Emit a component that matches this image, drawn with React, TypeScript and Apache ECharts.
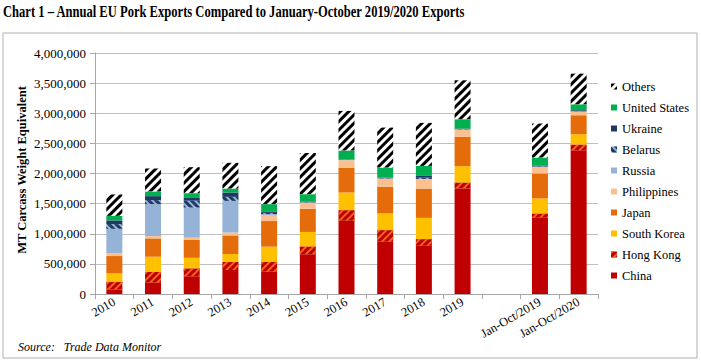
import React, { useEffect, useRef } from "react";
import * as echarts from "echarts";

const categories = ["2010", "2011", "2012", "2013", "2014", "2015", "2016", "2017", "2018", "2019", "", "Jan-Oct/2019", "Jan-Oct/2020"];

// thousand MT carcass weight equivalent
const china = [77, 188, 295, 398, 370, 660, 1215, 867, 800, 1751, null, 1265, 2387];
const hongKong = [127, 182, 131, 135, 166, 130, 177, 194, 111, 100, null, 72, 94];
const southKorea = [139, 249, 175, 130, 250, 240, 293, 276, 353, 271, null, 249, 171];
const japan = [287, 304, 295, 310, 425, 385, 409, 442, 486, 486, null, 414, 315];
const philippines = [50, 38, 40, 48, 100, 100, 127, 135, 155, 120, null, 110, 60];
const russia = [403, 531, 500, 525, 15, 3, 3, 3, 5, 3, null, 3, 3];
const belarus = [77, 66, 113, 66, 20, 4, 3, 5, 20, 5, null, 5, 3];
const ukraine = [61, 66, 55, 72, 25, 8, 5, 7, 30, 10, null, 9, 17];
const unitedStates = [77, 78, 70, 66, 121, 127, 150, 170, 167, 155, null, 138, 99];
const others = [354, 381, 431, 427, 630, 683, 657, 663, 713, 646, null, 564, 508];

const yTicks = { min: 0, max: 4000000, interval: 500000 };
const legendOrder = ["Others", "United States", "Ukraine", "Belarus", "Russia", "Philippines", "Japan", "South Korea", "Hong Kong", "China"];

const FONT = "Liberation Serif, Times New Roman, serif";

export default function App() {
  const ref = useRef<HTMLDivElement>(null);
  useEffect(() => {
    if (!ref.current) return;
    const chart = echarts.init(ref.current, null, { renderer: "svg" });
    const toVals = (a: (number | null)[]) => a.map((v) => (v == null ? "-" : v * 1000));
    const mk = (name: string, data: (number | null)[], itemStyle: any) => ({
      name,
      type: "bar",
      stack: "total",
      barWidth: 16,
      data: toVals(data),
      itemStyle,
    });
    const series = [
      mk("China", china, { color: "#C00000" }),
      mk("Hong Kong", hongKong, {
        color: "#C00000",
        decal: { symbol: "rect", symbolSize: 1, color: "#F0641E", dashArrayX: [1, 0], dashArrayY: [2, 3], rotation: -Math.PI / 4 },
      }),
      mk("South Korea", southKorea, { color: "#FFC000" }),
      mk("Japan", japan, { color: "#E46C0A" }),
      mk("Philippines", philippines, { color: "#FAC090" }),
      mk("Russia", russia, { color: "#95B3D7" }),
      mk("Belarus", belarus, {
        color: "#95B3D7",
        decal: { symbol: "rect", symbolSize: 1, color: "#1F3864", dashArrayX: [1, 0], dashArrayY: [3, 2], rotation: Math.PI / 4 },
      }),
      mk("Ukraine", ukraine, { color: "#1F3864" }),
      mk("United States", unitedStates, { color: "#00B050" }),
      mk("Others", others, {
        color: "#FFFFFF",
        decal: { symbol: "rect", symbolSize: 1, color: "#000000", dashArrayX: [1, 0], dashArrayY: [2.5, 2.5], rotation: -Math.PI / 4 },
      }),
    ];
    chart.setOption({
      animation: false,
      textStyle: { fontFamily: FONT },
      grid: { left: 95, right: 103, top: 53, bottom: 70, containLabel: false },
      legend: {
        orient: "vertical",
        left: 606,
        top: 75,
        itemWidth: 6,
        itemHeight: 6,
        itemGap: 8,
        icon: "rect",
        data: legendOrder,
        textStyle: { fontFamily: FONT, fontSize: 12.5, color: "#000" },
      },
      xAxis: {
        type: "category",
        data: categories,
        axisLine: { lineStyle: { color: "#a6a6a6" } },
        axisTick: { show: true, length: 5, lineStyle: { color: "#a6a6a6" } },
        axisLabel: { interval: 0, rotate: 30, margin: 7, fontFamily: FONT, fontSize: 12.5, color: "#000" },
      },
      yAxis: {
        type: "value",
        min: yTicks.min,
        max: yTicks.max,
        interval: yTicks.interval,
        axisLine: { show: true, lineStyle: { color: "#a6a6a6" } },
        axisTick: { show: true, length: 5, lineStyle: { color: "#a6a6a6" } },
        splitLine: { lineStyle: { color: "#bfbfbf" } },
        axisLabel: {
          margin: 9,
          fontFamily: FONT,
          fontSize: 13,
          color: "#000",
          formatter: (v: number) => v.toLocaleString("en-US"),
        },
      },
      graphic: [
        {
          type: "rect",
          shape: { x: 3, y: 33, width: 694, height: 325 },
          style: { fill: "none", stroke: "#b0b0b0", lineWidth: 1 },
          silent: true,
          z: -1,
        },
        {
          type: "text",
          x: 3,
          y: 11,
          scaleX: 0.74,
          style: {
            text: "Chart 1 \u2013 Annual EU Pork Exports Compared to January-October 2019/2020 Exports",
            font: `bold 17px ${FONT}`,
            fill: "#000",
            align: "left",
            verticalAlign: "middle",
          },
        },
        {
          type: "text",
          x: 22,
          y: 170,
          rotation: Math.PI / 2,
          style: {
            text: "MT Carcass Weight Equivalent",
            font: `bold 12.5px ${FONT}`,
            fill: "#000",
            align: "center",
            verticalAlign: "middle",
          },
        },
        {
          type: "text",
          x: 18,
          y: 347,
          style: {
            text: "Source:   Trade Data Monitor",
            font: `italic 12px ${FONT}`,
            fill: "#000",
            align: "left",
            verticalAlign: "middle",
          },
        },
      ],
      series,
    });
    return () => chart.dispose();
  }, []);
  return <div ref={ref} style={{ width: 701, height: 364, position: "absolute", left: 0, top: 0 }} />;
}
